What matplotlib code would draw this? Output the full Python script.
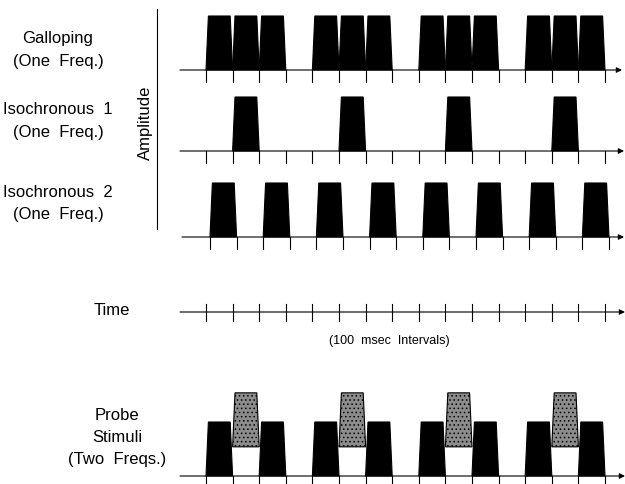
import matplotlib
matplotlib.use("Agg")
import matplotlib.pyplot as plt
from matplotlib.patches import Polygon

plt.rcParams["font.family"] = ["Liberation Sans", "DejaVu Sans"]

# time grid (ms)
interval_ms = 100
tick_times = [i * interval_ms for i in range(16)]
pulse_dur = 100
rise = 9

# pulse onsets (ms) per row
galloping_onsets = [0, 100, 200, 400, 500, 600, 800, 900, 1000, 1200, 1300, 1400]
iso1_onsets = [100, 500, 900, 1300]
iso2_onsets = [0, 200, 400, 600, 800, 1000, 1200, 1400]
probe_low_onsets = [0, 200, 400, 600, 800, 1000, 1200, 1400]
probe_high_onsets = [100, 500, 900, 1300]

# amplitudes (relative)
low_amp = 1.0
high_base = 0.54
high_amp = 1.0

row_labels = ["Galloping\n(One  Freq.)", "Isochronous  1\n(One  Freq.)",
              "Isochronous  2\n(One  Freq.)"]

# layout in pixels
W, H = 625, 485
px_per_ms = 26.6 / interval_ms
x0_px = 206
amp_px = 54


def px_to_ms(x):
    return (x - x0_px) / px_per_ms


fig = plt.figure(figsize=(W / 100, H / 100), dpi=100)
ax = fig.add_axes([0, 0, 1, 1])
ax.set_xlim(px_to_ms(0), px_to_ms(W))
ax.set_ylim(H, 0)
ax.axis("off")

plt.rcParams["hatch.color"] = "#4a4a4a"
plt.rcParams["hatch.linewidth"] = 0.6


def pulse(t, base_y, lo, hi, face, hatch=None):
    y_lo = base_y - lo * amp_px
    y_hi = base_y - hi * amp_px
    pts = [(t, y_lo), (t + rise, y_hi), (t + pulse_dur - rise, y_hi),
           (t + pulse_dur, y_lo)]
    p = Polygon(pts, closed=True, facecolor=face, edgecolor="black",
                lw=0.8, hatch=hatch, zorder=3)
    ax.add_patch(p)


def baseline(base_y, shift=0, tick_up=0, tick_down=12, start_px=180, end_px=622):
    ax.annotate("", xy=(px_to_ms(end_px), base_y),
                xytext=(px_to_ms(start_px), base_y),
                arrowprops=dict(arrowstyle="-|>", color="black", lw=0.8,
                                mutation_scale=8, shrinkA=0, shrinkB=0))
    for t in tick_times:
        ax.plot([t + shift, t + shift], [base_y - tick_up, base_y + tick_down],
                color="black", lw=0.8, zorder=2)


# galloping
y_gal = 71
baseline(y_gal)
for t in galloping_onsets:
    pulse(t, y_gal, 0, low_amp, "black")

# isochronous 1
y_iso1 = 152
baseline(y_iso1, end_px=624)
for t in iso1_onsets:
    pulse(t, y_iso1, 0, low_amp, "black")

# isochronous 2 (slightly offset in the original)
y_iso2 = 238
shift2 = 15
baseline(y_iso2, shift=shift2, start_px=182, end_px=624)
for t in iso2_onsets:
    pulse(t + shift2, y_iso2, 0, low_amp, "black")

# time axis
y_time = 313
baseline(y_time, tick_up=8, tick_down=9, start_px=180, end_px=625)

# probe stimuli
y_probe = 477
baseline(y_probe, tick_down=10, start_px=180, end_px=625)
for t in probe_low_onsets:
    pulse(t, y_probe, 0, low_amp, "black")
for t in probe_high_onsets:
    pulse(t, y_probe, high_base, high_base + high_amp, "#8c8c8c", hatch="....")

# amplitude axis
ax.plot([px_to_ms(157)] * 2, [10, 230], color="black", lw=0.8)
ax.text(px_to_ms(145), 123, "Amplitude", rotation=90,
        ha="center", va="center", fontsize=12)

# labels
for lab, yc in zip(row_labels, [50, 121, 203.5]):
    ax.text(px_to_ms(58), yc, lab, ha="center", va="center", fontsize=12,
            linespacing=1.6)

ax.text(px_to_ms(112), 311, "Time", ha="center", va="center", fontsize=12)
ax.text(px_to_ms(389), 341, "(100  msec  Intervals)",
        ha="center", va="center", fontsize=9)
ax.text(px_to_ms(117), 437.5, "Probe\nStimuli\n(Two  Freqs.)",
        ha="center", va="center", fontsize=12, linespacing=1.55)

fig.savefig("out.png", dpi=100)
